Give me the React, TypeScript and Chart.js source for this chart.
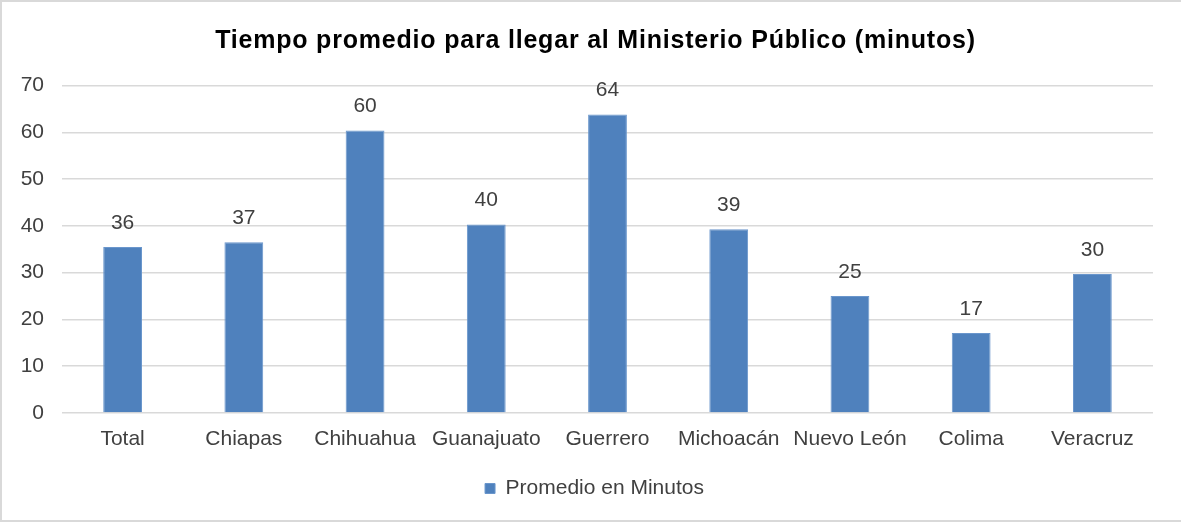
import React, { useEffect, useRef } from "react";
import { Chart, registerables } from "chart.js";

Chart.register(...registerables);

const categories = ["Total", "Chiapas", "Chihuahua", "Guanajuato", "Guerrero", "Michoacán", "Nuevo León", "Colima", "Veracruz"];
const promedioMinutos = [35.5, 36.5, 60.4, 40.3, 63.8, 39.3, 25.0, 17.1, 29.7];
const seriesName = "Promedio en Minutos";
const chartTitle = "Tiempo promedio para llegar al Ministerio Público (minutos)";
const yMin = 0;
const yMax = 70;
const yStep = 10;

const FONT = "'Liberation Sans', Arial, sans-serif";
const TEXT = "#404040";
const BAR = "#4F81BD";

const valueLabels = {
  id: "valueLabels",
  afterDatasetsDraw(chart: any) {
    const ctx = chart.ctx;
    ctx.save();
    ctx.font = `21px ${FONT}`;
    ctx.fillStyle = TEXT;
    ctx.textAlign = "center";
    ctx.textBaseline = "middle";
    chart.data.datasets.forEach((ds: any, di: number) => {
      const meta = chart.getDatasetMeta(di);
      meta.data.forEach((el: any, i: number) => {
        const v = ds.data[i];
        ctx.fillText(String(Math.round(v)), el.x, el.y - 24);
      });
    });
    ctx.restore();
  },
};

const spacedTitle = {
  id: "spacedTitle",
  afterDraw(chart: any) {
    const t = chart.titleBlock;
    if (!t) return;
    const ctx = chart.ctx;
    ctx.save();
    ctx.font = `bold 25px ${FONT}`;
    (ctx as any).letterSpacing = "0.8px";
    ctx.fillStyle = "#000000";
    ctx.textAlign = "center";
    ctx.textBaseline = "middle";
    ctx.fillText(chartTitle, (t.left + t.right) / 2 + 1, (t.top + t.bottom) / 2 - 3);
    ctx.restore();
  },
};

export default function App() {
  const ref = useRef<HTMLCanvasElement>(null);
  useEffect(() => {
    if (!ref.current) return;
    const chart = new Chart(ref.current, {
      type: "bar",
      data: {
        labels: categories,
        datasets: [
          {
            label: seriesName,
            data: promedioMinutos,
            backgroundColor: BAR,
            borderColor: "#6A96CC",
            borderWidth: 1,
            barPercentage: 0.64,
            categoryPercentage: 0.5,
          },
        ],
      },
      options: {
        animation: false,
        responsive: false,
        maintainAspectRatio: false,
        layout: { padding: { left: 0, right: -6, top: 0, bottom: 11 } },
        plugins: {
          title: {
            display: true,
            text: chartTitle,
            color: "rgba(0,0,0,0)",
            font: { family: FONT, size: 23, weight: "bold" },
            padding: { top: 22, bottom: 34 },
          },
          legend: {
            position: "bottom",
            labels: {
              color: TEXT,
              font: { family: FONT, size: 21 },
              boxWidth: 10,
              boxHeight: 10,
              padding: 10,
            },
          },
          tooltip: { enabled: false },
        },
        scales: {
          x: {
            grid: { display: false, drawTicks: false },
            border: { display: false },
            ticks: { color: TEXT, font: { family: FONT, size: 21 }, padding: 14, maxRotation: 0, autoSkip: false },
            afterFit(scale: any) {
              scale.height = 55;
            },
          },
          y: {
            min: yMin,
            max: yMax,
            grid: { color: "#D9D9D9", lineWidth: 1.5, drawTicks: false },
            border: { display: false },
            ticks: { stepSize: yStep, color: TEXT, font: { family: FONT, size: 21 }, padding: 18 },
            afterFit(scale: any) {
              scale.width = 60;
            },
          },
          y2: {
            position: "right",
            min: yMin,
            max: yMax,
            grid: { display: false, drawTicks: false },
            border: { display: false },
            ticks: { display: false },
            afterFit(scale: any) {
              scale.width = 34;
            },
          },
        },
      },
      plugins: [valueLabels, spacedTitle],
    });
    return () => chart.destroy();
  }, []);
  return (
    <div
      style={{
        position: "fixed",
        left: 0,
        top: 0,
        width: 1181,
        height: 522,
        boxSizing: "border-box",
        borderLeft: "2px solid #D9D9D9",
        borderTop: "2px solid #D9D9D9",
        borderBottom: "2px solid #D9D9D9",
        background: "#fff",
      }}
    >
      <canvas ref={ref} width={1179} height={518} style={{ display: "block" }} />
    </div>
  );
}
